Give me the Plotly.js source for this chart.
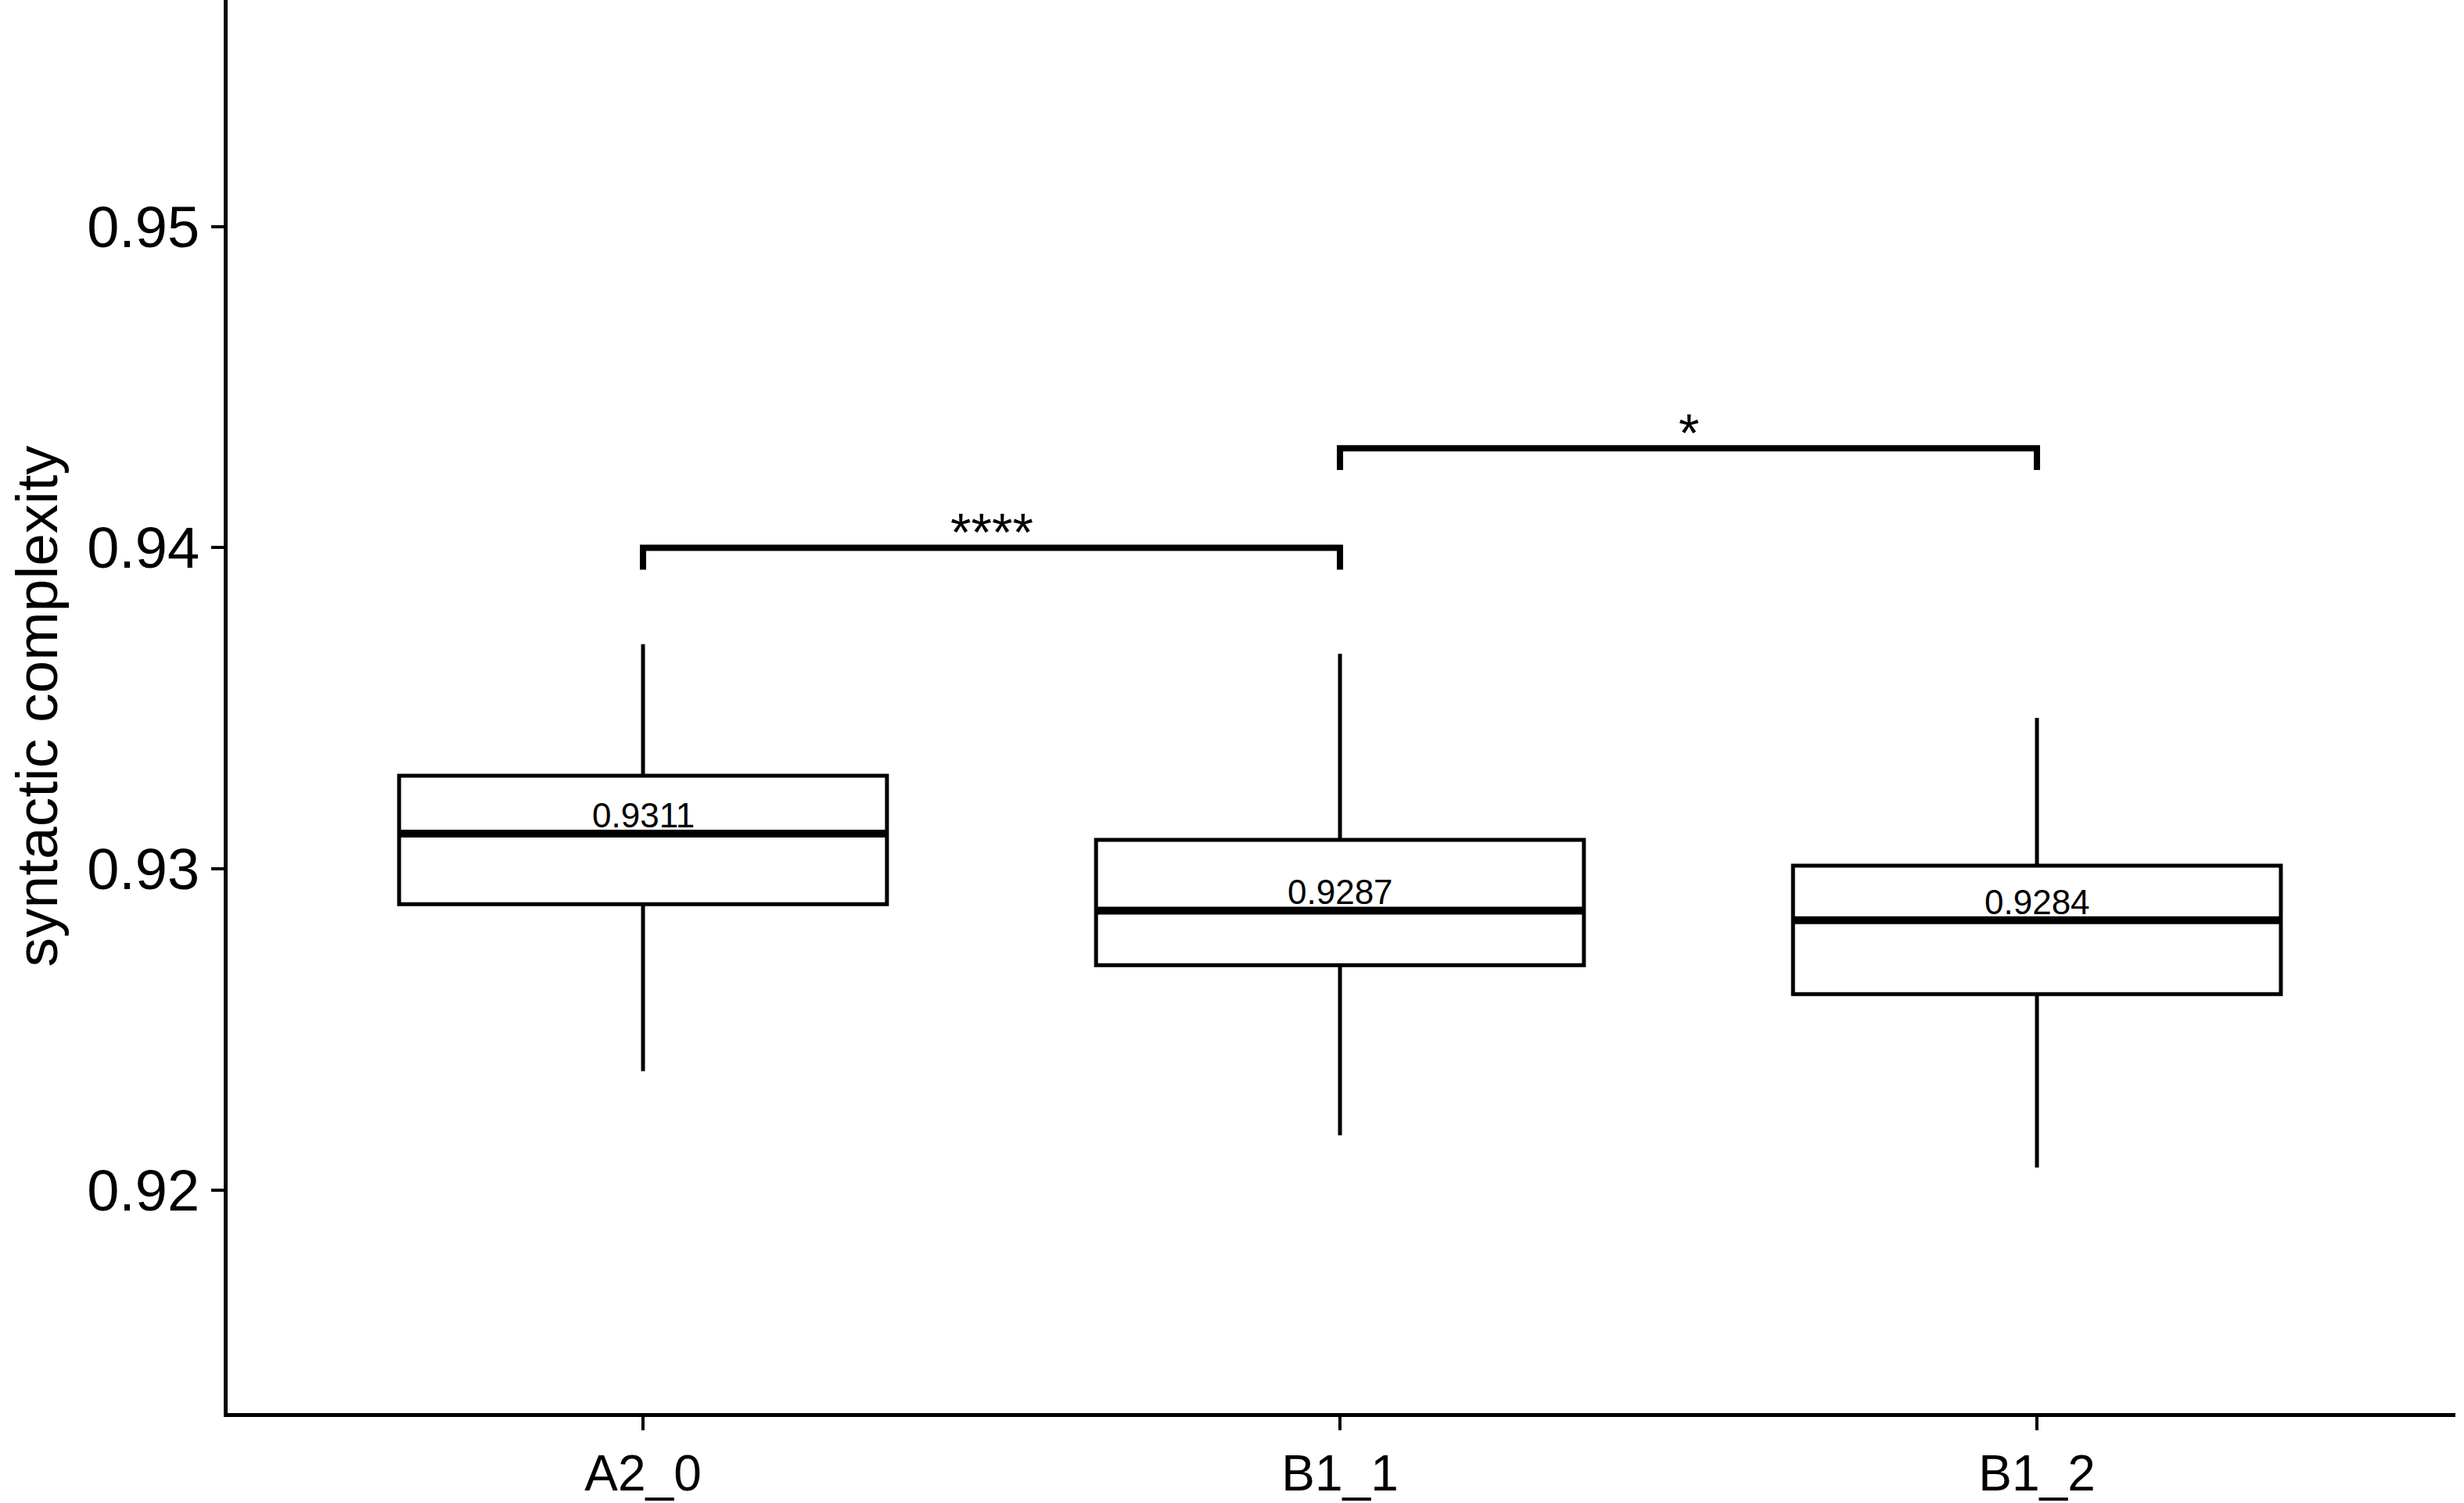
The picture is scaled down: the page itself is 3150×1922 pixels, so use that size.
<!DOCTYPE html>
<html>
<head>
<meta charset="utf-8">
<script src="https://cdn.plot.ly/plotly-3.0.1.min.js"></script>
<style>html,body{margin:0;padding:0;background:#fff;}#chart{width:3150px;height:1922px;}</style>
</head>
<body>
<div id="chart"></div>
<script>
// ---- data ----
const categories = ['A2_0', 'B1_1', 'B1_2'];
const upperWhisker = [0.9370, 0.9367, 0.9347];
const q3Values     = [0.9329, 0.9309, 0.9301];
const medians      = [0.9311, 0.9287, 0.9284];
const q1Values     = [0.9289, 0.9270, 0.9261];
const lowerWhisker = [0.9237, 0.9217, 0.9207];
// significance brackets: from index, to index, label, bracket height
const bracketFrom   = [0, 1];
const bracketTo     = [1, 2];
const bracketLabels = ['****', '*'];
const bracketY      = [0.9400, 0.9431];
const yTicks = [0.92, 0.93, 0.94, 0.95];
const yTickLabels = ['0.92', '0.93', '0.94', '0.95'];
const yTitle = 'syntactic complexity';

// ---- styling ----
const FONT = 'Liberation Sans, Arial, sans-serif';
const BOX_W = 0.7;
const TIP = 0.00068;
const pos = categories.map((c, i) => i);

const traces = [{
  type: 'box',
  x: pos,
  q1: q1Values,
  median: medians,
  q3: q3Values,
  lowerfence: lowerWhisker,
  upperfence: upperWhisker,
  width: BOX_W,
  whiskerwidth: 0,
  fillcolor: 'rgba(255,255,255,0)',
  line: {color: '#000', width: 5},
  boxpoints: false,
  hoverinfo: 'skip',
  showlegend: false
}];

// brackets
bracketFrom.forEach((f, k) => {
  const t = bracketTo[k];
  const y = bracketY[k];
  traces.push({
    type: 'scatter', mode: 'lines',
    x: [pos[f], pos[f], pos[t], pos[t]],
    y: [y - TIP, y, y, y - TIP],
    line: {color: '#000', width: 8},
    hoverinfo: 'skip', showlegend: false
  });
});

const shapes = medians.map((m, i) => ({
  type: 'line', xref: 'x', yref: 'y',
  x0: pos[i] - BOX_W / 2, x1: pos[i] + BOX_W / 2, y0: m, y1: m,
  line: {color: '#000', width: 10}, layer: 'above'
}));

const annotations = medians.map((m, i) => ({
  xref: 'x', yref: 'y', x: pos[i], y: m,
  text: m.toFixed(4), showarrow: false,
  xanchor: 'center', yanchor: 'bottom', yshift: -3,
  font: {family: FONT, size: 44, color: '#000'}
}));

bracketLabels.forEach((lab, k) => {
  annotations.push({
    xref: 'x', yref: 'y',
    x: (pos[bracketFrom[k]] + pos[bracketTo[k]]) / 2, y: bracketY[k],
    text: lab, showarrow: false,
    xanchor: 'center', yanchor: 'bottom', yshift: -20,
    font: {family: FONT, size: 68, color: '#000'}
  });
});

annotations.push({
  xref: 'paper', yref: 'paper', x: (46 - 291) / 2848, y: 0.5,
  text: yTitle, textangle: -90, showarrow: false,
  xanchor: 'center', yanchor: 'middle',
  font: {family: FONT, size: 75, color: '#000'}
});

const layout = {
  width: 3150, height: 1922,
  margin: {l: 291, r: 11, t: 0, b: 115},
  paper_bgcolor: '#fff', plot_bgcolor: '#fff',
  showlegend: false,
  xaxis: {
    range: [-0.596, 2.6004], tickmode: 'array', tickvals: pos, ticktext: categories,
    showgrid: false, zeroline: false, showline: true, linecolor: '#000', linewidth: 5,
    ticks: 'outside', ticklen: 17, tickwidth: 4, tickcolor: '#000',
    tickfont: {family: FONT, size: 64, color: '#000'}
  },
  yaxis: {
    range: [0.91305, 0.95706], tickmode: 'array', tickvals: yTicks, ticktext: yTickLabels,
    showgrid: false, zeroline: false, showline: true, linecolor: '#000', linewidth: 5,
    ticks: 'outside', ticklen: 16, tickwidth: 4, tickcolor: '#000',
    tickfont: {family: FONT, size: 74, color: '#000'}
  },
  shapes: shapes,
  annotations: annotations
};

Plotly.newPlot('chart', traces, layout, {displayModeBar: false, staticPlot: true});
</script>
</body>
</html>
